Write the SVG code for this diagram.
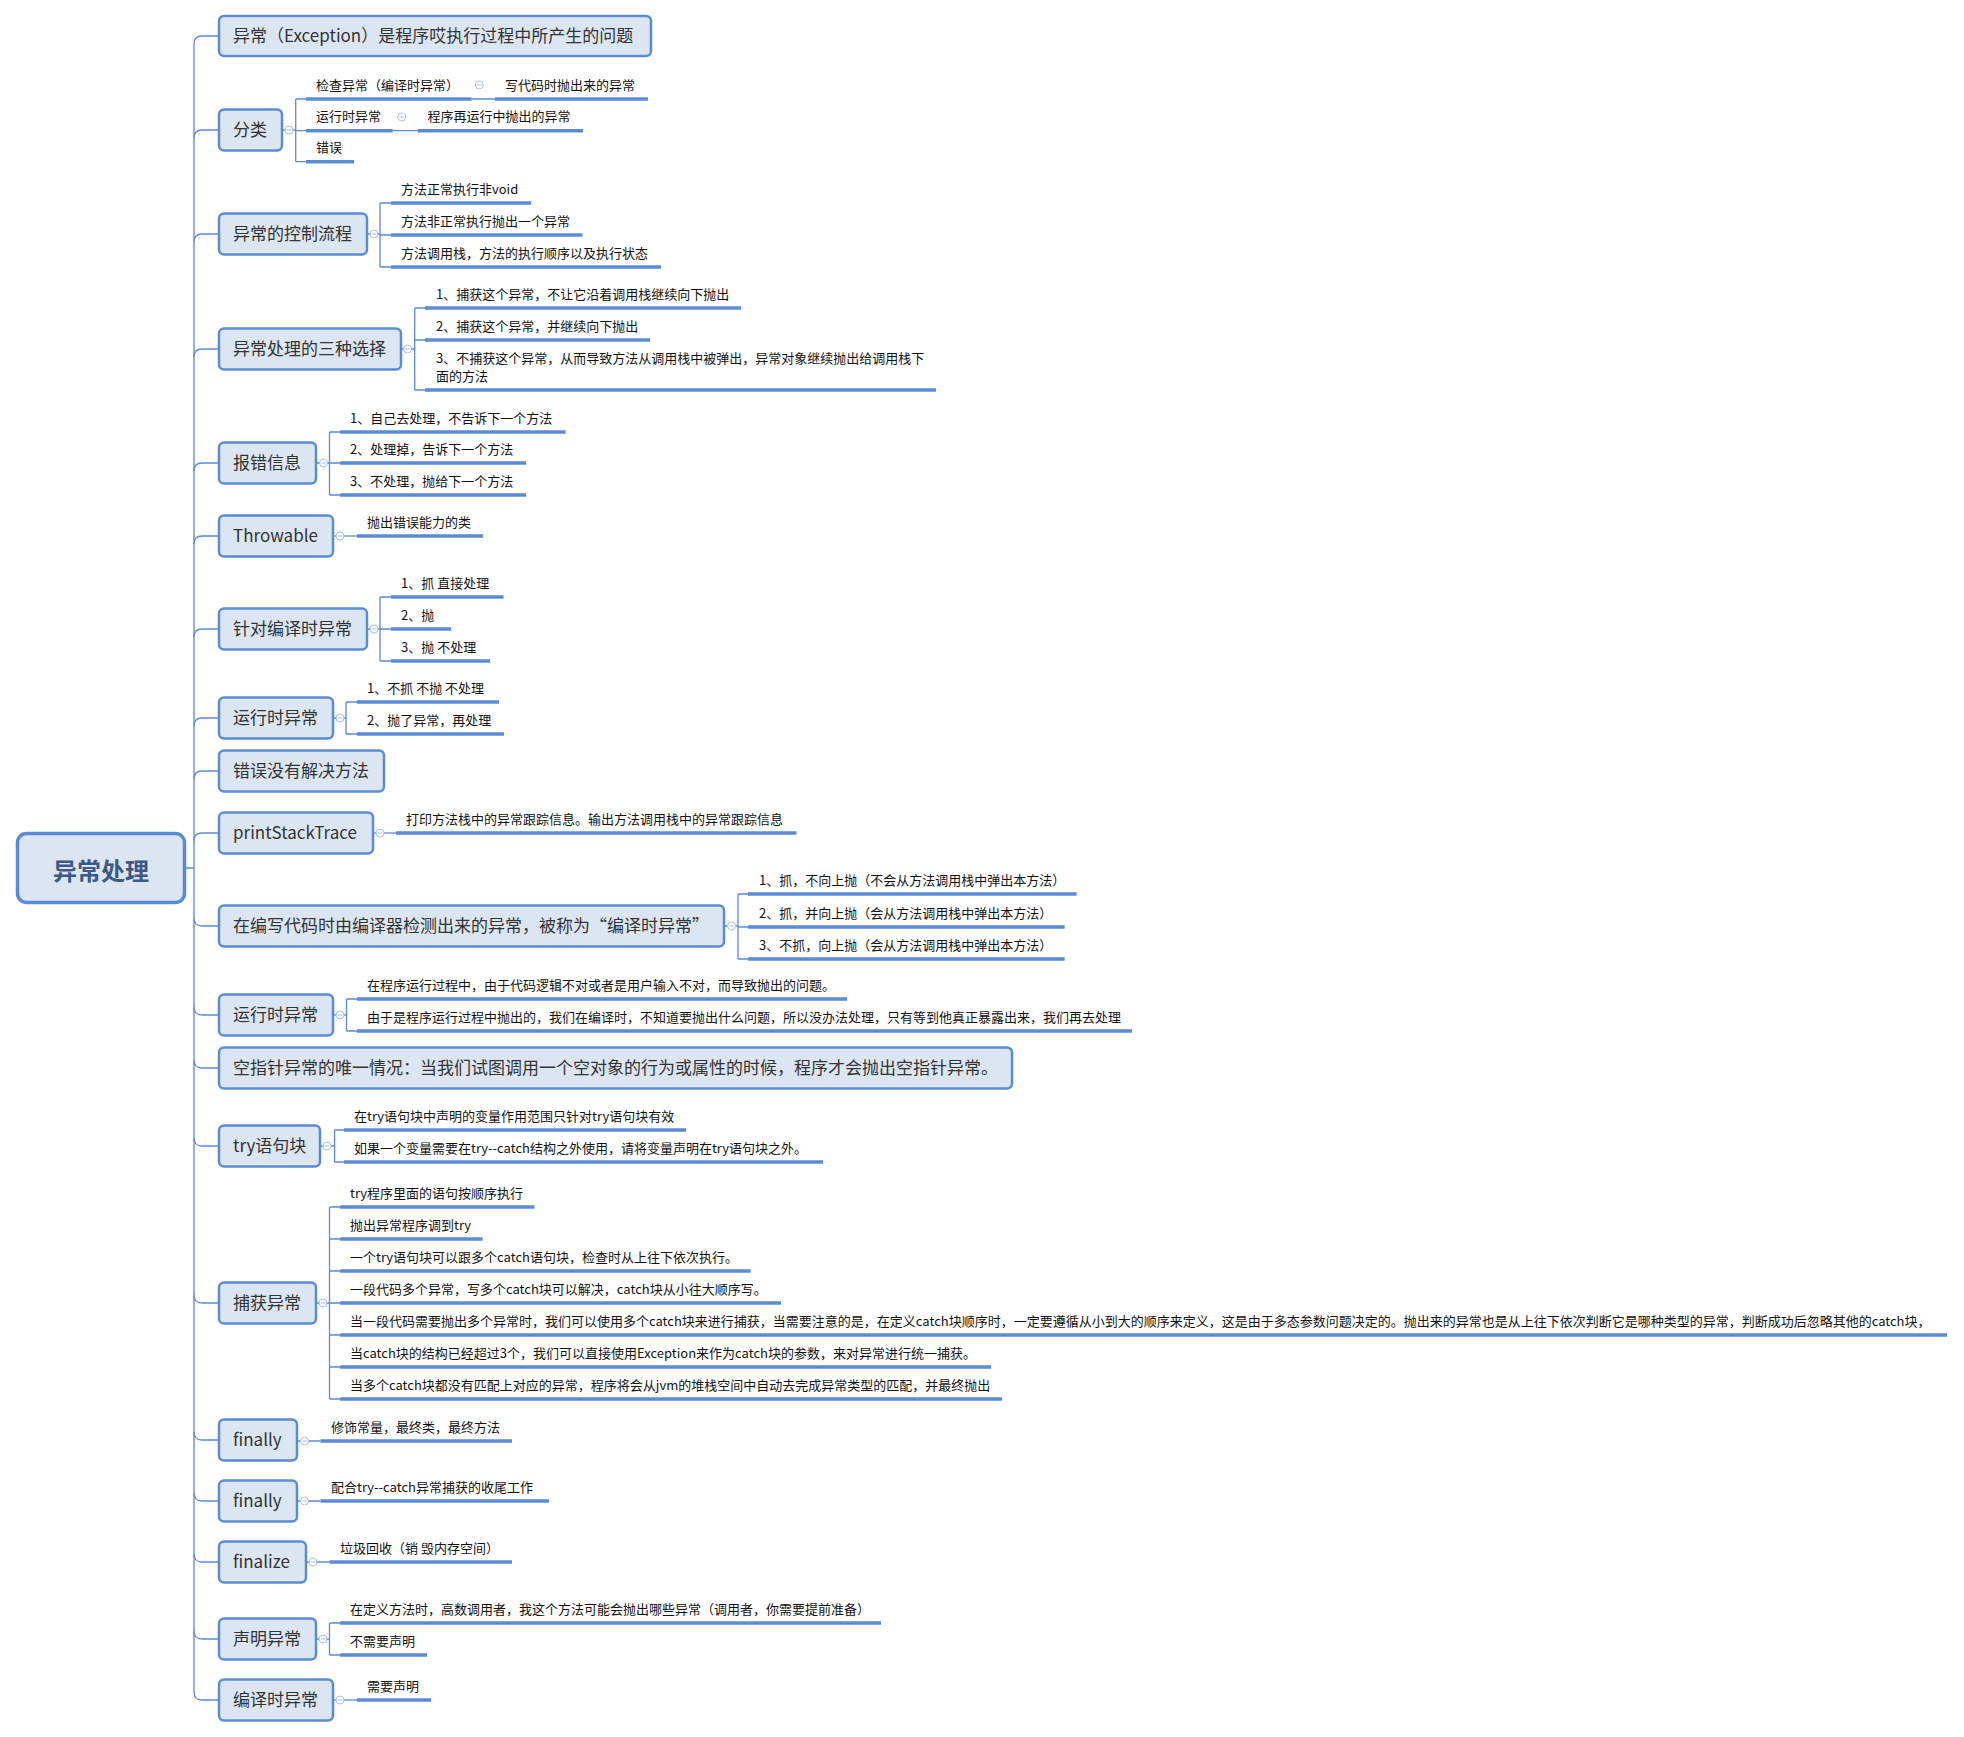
<svg xmlns="http://www.w3.org/2000/svg" width="1964" height="1737" viewBox="0 0 1964 1737">
<style>
text{font-family:"Noto Sans CJK SC","Noto Sans",sans-serif;dominant-baseline:central}
.n rect{fill:#DCE6F2;stroke:#5B8BD6;stroke-width:2.5}
.n text{font-size:17px;fill:#333333;transform:translateY(-1.5px)}
.root rect{fill:#DCE6F2;stroke:#5B8BD6;stroke-width:3.5}
.root text{font-size:24px;font-weight:bold;fill:#3A5888;text-anchor:middle}
.s text{font-size:13px;fill:#111111;transform:translateY(-1.5px)}
.s line{stroke:#5B8BD6;stroke-width:3.5}
.ln{stroke:#5B8BD6;stroke-width:1.3;fill:none}
</style>
<defs><g id="tog"><circle r="4" fill="#ffffff" stroke="#A9BEE6" stroke-width="1"/><path d="M-2.2,0 H2.2" stroke="#A9BEE6" stroke-width="1"/></g></defs>
<rect width="1964" height="1737" fill="#ffffff"/>

<g id="connectors" class="ln">
<path d="M185,868 H194 M194,44 V1692"/>
<path d="M194,44 Q194,36 202,36 H219"/>
<path d="M194,138 Q194,130 202,130 H219"/>
<path d="M194,242 Q194,234 202,234 H219"/>
<path d="M194,357 Q194,349 202,349 H219"/>
<path d="M194,471 Q194,463 202,463 H219"/>
<path d="M194,544 Q194,536 202,536 H219"/>
<path d="M194,637 Q194,629 202,629 H219"/>
<path d="M194,726 Q194,718 202,718 H219"/>
<path d="M194,779 Q194,771 202,771 H219"/>
<path d="M194,841 Q194,833 202,833 H219"/>
<path d="M194,918 Q194,926 202,926 H219"/>
<path d="M194,1007 Q194,1015 202,1015 H219"/>
<path d="M194,1060 Q194,1068 202,1068 H219"/>
<path d="M194,1138 Q194,1146 202,1146 H219"/>
<path d="M194,1295 Q194,1303 202,1303 H219"/>
<path d="M194,1432 Q194,1440 202,1440 H219"/>
<path d="M194,1493 Q194,1501 202,1501 H219"/>
<path d="M194,1554 Q194,1562 202,1562 H219"/>
<path d="M194,1631 Q194,1639 202,1639 H219"/>
<path d="M194,1692 Q194,1700 202,1700 H219"/>
<path d="M282,130 H295.7 M295.7,99 V161.7 M295.7,99 H306 M295.7,130.7 H306 M295.7,161.7 H306"/>
<path d="M471.7,99 H495 M392.7,130.7 H417.7"/>
<path d="M367,234 H380 M380,203 V267 M380,203 H391 M380,235 H391 M380,267 H391"/>
<path d="M401,349 H414.7 M414.7,308 V390 M414.7,308 H425 M414.7,340 H425 M414.7,390 H425"/>
<path d="M316,463 H329.5 M329.5,432 V495 M329.5,432 H340 M329.5,463 H340 M329.5,495 H340"/>
<path d="M333,536 H357"/>
<path d="M367,629 H380 M380,597 V661 M380,597 H391 M380,629 H391 M380,661 H391"/>
<path d="M333,718 H346 M346,702 V734 M346,702 H357 M346,734 H357"/>
<path d="M373,833 H396"/>
<path d="M724,926 H738 M738,894 V959 M738,894 H748 M738,927 H748 M738,959 H748"/>
<path d="M333,1015 H346.5 M346.5,999 V1031 M346.5,999 H357 M346.5,1031 H357"/>
<path d="M320,1146 H334.6 M334.6,1130 V1162 M334.6,1130 H344 M334.6,1162 H344"/>
<path d="M316,1303 H329.5 M329.5,1207 V1399 M329.5,1207 H340 M329.5,1239 H340 M329.5,1271 H340 M329.5,1303 H340 M329.5,1335 H340 M329.5,1367 H340 M329.5,1399 H340"/>
<path d="M297,1441 H320.5 M297,1501 H320.5 M306,1562 H329.5"/>
<path d="M316,1639 H329.5 M329.5,1623 V1655 M329.5,1623 H340 M329.5,1655 H340"/>
<path d="M333,1700 H357"/>
</g>

<g id="root" class="root"><rect x="17.5" y="833.5" width="167" height="69" rx="9"/><text x="101" y="869">异常处理</text></g>

<g id="n01" class="n"><rect x="219" y="16" width="432" height="40" rx="5"/><text x="233" y="36">异常（Exception）是程序哎执行过程中所产生的问题</text></g>
<g id="n02" class="n"><rect x="219" y="109.5" width="63" height="41" rx="5"/><text x="233" y="130">分类</text></g>
<g id="n03" class="n"><rect x="219" y="213.5" width="148" height="41" rx="5"/><text x="233" y="234">异常的控制流程</text></g>
<g id="n04" class="n"><rect x="219" y="328.5" width="182" height="41" rx="5"/><text x="233" y="349">异常处理的三种选择</text></g>
<g id="n05" class="n"><rect x="219" y="442.5" width="97" height="41" rx="5"/><text x="233" y="463">报错信息</text></g>
<g id="n06" class="n"><rect x="219" y="515.5" width="114" height="41" rx="5"/><text x="233" y="536">Throwable</text></g>
<g id="n07" class="n"><rect x="219" y="608.5" width="148" height="41" rx="5"/><text x="233" y="629">针对编译时异常</text></g>
<g id="n08" class="n"><rect x="219" y="697.5" width="114" height="41" rx="5"/><text x="233" y="718">运行时异常</text></g>
<g id="n09" class="n"><rect x="219" y="750.5" width="165" height="41" rx="5"/><text x="233" y="771">错误没有解决方法</text></g>
<g id="n10" class="n"><rect x="219" y="812.5" width="154" height="41" rx="5"/><text x="233" y="833">printStackTrace</text></g>
<g id="n11" class="n"><rect x="219" y="905.5" width="505" height="41" rx="5"/><text x="233" y="926">在编写代码时由编译器检测出来的异常，被称为“编译时异常”</text></g>
<g id="n12" class="n"><rect x="219" y="994.5" width="114" height="41" rx="5"/><text x="233" y="1015">运行时异常</text></g>
<g id="n13" class="n"><rect x="219" y="1047.5" width="793" height="41" rx="5"/><text x="233" y="1068">空指针异常的唯一情况：当我们试图调用一个空对象的行为或属性的时候，程序才会抛出空指针异常。</text></g>
<g id="n14" class="n"><rect x="219" y="1125.5" width="101" height="41" rx="5"/><text x="233" y="1146">try语句块</text></g>
<g id="n15" class="n"><rect x="219" y="1282.5" width="97" height="41" rx="5"/><text x="233" y="1303">捕获异常</text></g>
<g id="n16" class="n"><rect x="219" y="1419.5" width="78" height="41" rx="5"/><text x="233" y="1440">finally</text></g>
<g id="n17" class="n"><rect x="219" y="1480.5" width="78" height="41" rx="5"/><text x="233" y="1501">finally</text></g>
<g id="n18" class="n"><rect x="219" y="1541.5" width="87" height="41" rx="5"/><text x="233" y="1562">finalize</text></g>
<g id="n19" class="n"><rect x="219" y="1618.5" width="97" height="41" rx="5"/><text x="233" y="1639">声明异常</text></g>
<g id="n20" class="n"><rect x="219" y="1679.5" width="114" height="41" rx="5"/><text x="233" y="1700">编译时异常</text></g>

<g id="s02a" class="s"><line x1="306" y1="99" x2="471.7" y2="99"/><text x="316" y="85.5">检查异常（编译时异常）</text></g>
<g id="s02a1" class="s"><line x1="495" y1="99" x2="648" y2="99"/><text x="505" y="85.5">写代码时抛出来的异常</text></g>
<g id="s02b" class="s"><line x1="306" y1="130.7" x2="392.7" y2="130.7"/><text x="316" y="117">运行时异常</text></g>
<g id="s02b1" class="s"><line x1="417.7" y1="130.7" x2="583" y2="130.7"/><text x="427.6" y="117">程序再运行中抛出的异常</text></g>
<g id="s02c" class="s"><line x1="306" y1="161.7" x2="354" y2="161.7"/><text x="316" y="148">错误</text></g>

<g id="s03a" class="s"><line x1="391" y1="203" x2="531" y2="203"/><text x="401" y="189.5">方法正常执行非void</text></g>
<g id="s03b" class="s"><line x1="391" y1="235" x2="582.5" y2="235"/><text x="401" y="221.5">方法非正常执行抛出一个异常</text></g>
<g id="s03c" class="s"><line x1="391" y1="267" x2="661" y2="267"/><text x="401" y="253.5">方法调用栈，方法的执行顺序以及执行状态</text></g>

<g id="s04a" class="s"><line x1="425" y1="308" x2="741" y2="308"/><text x="436" y="294.5">1、捕获这个异常，不让它沿着调用栈继续向下抛出</text></g>
<g id="s04b" class="s"><line x1="425" y1="340" x2="650" y2="340"/><text x="436" y="326.5">2、捕获这个异常，并继续向下抛出</text></g>
<g id="s04c" class="s"><line x1="425" y1="390" x2="936" y2="390"/><text x="436" y="358.5">3、不捕获这个异常，从而导致方法从调用栈中被弹出，异常对象继续抛出给调用栈下</text><text x="436" y="376.5">面的方法</text></g>

<g id="s05a" class="s"><line x1="340" y1="432" x2="565.6" y2="432"/><text x="350" y="418.5">1、自己去处理，不告诉下一个方法</text></g>
<g id="s05b" class="s"><line x1="340" y1="463" x2="526" y2="463"/><text x="350" y="449.5">2、处理掉，告诉下一个方法</text></g>
<g id="s05c" class="s"><line x1="340" y1="495" x2="526" y2="495"/><text x="350" y="481.5">3、不处理，抛给下一个方法</text></g>

<g id="s06a" class="s"><line x1="357" y1="536" x2="483" y2="536"/><text x="367" y="522.5">抛出错误能力的类</text></g>

<g id="s07a" class="s"><line x1="391" y1="597" x2="503.5" y2="597"/><text x="401" y="583.5">1、抓 直接处理</text></g>
<g id="s07b" class="s"><line x1="391" y1="629" x2="451" y2="629"/><text x="401" y="615.5">2、抛</text></g>
<g id="s07c" class="s"><line x1="391" y1="661" x2="490" y2="661"/><text x="401" y="647.5">3、抛 不处理</text></g>

<g id="s08a" class="s"><line x1="357" y1="702" x2="499" y2="702"/><text x="367" y="688.5">1、不抓 不抛 不处理</text></g>
<g id="s08b" class="s"><line x1="357" y1="734" x2="504" y2="734"/><text x="367" y="720.5">2、抛了异常，再处理</text></g>

<g id="s10a" class="s"><line x1="396" y1="833" x2="796.5" y2="833"/><text x="406" y="819.5">打印方法栈中的异常跟踪信息。输出方法调用栈中的异常跟踪信息</text></g>

<g id="s11a" class="s"><line x1="748" y1="894" x2="1076.6" y2="894"/><text x="759" y="880.5">1、抓，不向上抛（不会从方法调用栈中弹出本方法）</text></g>
<g id="s11b" class="s"><line x1="748" y1="927" x2="1064.6" y2="927"/><text x="759" y="913.5">2、抓，并向上抛（会从方法调用栈中弹出本方法）</text></g>
<g id="s11c" class="s"><line x1="748" y1="959" x2="1064.6" y2="959"/><text x="759" y="945.5">3、不抓，向上抛（会从方法调用栈中弹出本方法）</text></g>

<g id="s12a" class="s"><line x1="357" y1="999" x2="847" y2="999"/><text x="367" y="985.5">在程序运行过程中，由于代码逻辑不对或者是用户输入不对，而导致抛出的问题。</text></g>
<g id="s12b" class="s"><line x1="357" y1="1031" x2="1132" y2="1031"/><text x="367" y="1017.5">由于是程序运行过程中抛出的，我们在编译时，不知道要抛出什么问题，所以没办法处理，只有等到他真正暴露出来，我们再去处理</text></g>

<g id="s14a" class="s"><line x1="344" y1="1130" x2="686" y2="1130"/><text x="354" y="1116.5">在try语句块中声明的变量作用范围只针对try语句块有效</text></g>
<g id="s14b" class="s"><line x1="344" y1="1162" x2="823" y2="1162"/><text x="354" y="1148.5">如果一个变量需要在try--catch结构之外使用，请将变量声明在try语句块之外。</text></g>

<g id="s15a" class="s"><line x1="340" y1="1207" x2="534.5" y2="1207"/><text x="350" y="1193.5">try程序里面的语句按顺序执行</text></g>
<g id="s15b" class="s"><line x1="340" y1="1239" x2="482.6" y2="1239"/><text x="350" y="1225.5">抛出异常程序调到try</text></g>
<g id="s15c" class="s"><line x1="340" y1="1271" x2="750.6" y2="1271"/><text x="350" y="1257.5">一个try语句块可以跟多个catch语句块，检查时从上往下依次执行。</text></g>
<g id="s15d" class="s"><line x1="340" y1="1303" x2="781" y2="1303"/><text x="350" y="1289.5">一段代码多个异常，写多个catch块可以解决，catch块从小往大顺序写。</text></g>
<g id="s15e" class="s"><line x1="340" y1="1335" x2="1947" y2="1335"/><text x="350" y="1321.5">当一段代码需要抛出多个异常时，我们可以使用多个catch块来进行捕获，当需要注意的是，在定义catch块顺序时，一定要遵循从小到大的顺序来定义，这是由于多态参数问题决定的。抛出来的异常也是从上往下依次判断它是哪种类型的异常，判断成功后忽略其他的catch块，</text></g>
<g id="s15f" class="s"><line x1="340" y1="1367" x2="991" y2="1367"/><text x="350" y="1353.5">当catch块的结构已经超过3个，我们可以直接使用Exception来作为catch块的参数，来对异常进行统一捕获。</text></g>
<g id="s15g" class="s"><line x1="340" y1="1399" x2="1002" y2="1399"/><text x="350" y="1385.5">当多个catch块都没有匹配上对应的异常，程序将会从jvm的堆栈空间中自动去完成异常类型的匹配，并最终抛出</text></g>

<g id="s16a" class="s"><line x1="320.5" y1="1441" x2="512" y2="1441"/><text x="331" y="1427.5">修饰常量，最终类，最终方法</text></g>
<g id="s17a" class="s"><line x1="320.5" y1="1501" x2="549" y2="1501"/><text x="331" y="1487.5">配合try--catch异常捕获的收尾工作</text></g>
<g id="s18a" class="s"><line x1="329.5" y1="1562" x2="512" y2="1562"/><text x="340" y="1548.5">垃圾回收（销 毁内存空间）</text></g>
<g id="s19a" class="s"><line x1="340" y1="1623" x2="881" y2="1623"/><text x="350" y="1609.5">在定义方法时，高数调用者，我这个方法可能会抛出哪些异常（调用者，你需要提前准备）</text></g>
<g id="s19b" class="s"><line x1="340" y1="1655" x2="427" y2="1655"/><text x="350" y="1641.5">不需要声明</text></g>
<g id="s20a" class="s"><line x1="357" y1="1700" x2="431" y2="1700"/><text x="367" y="1686.5">需要声明</text></g>

<g id="toggles">
<use href="#tog" x="289" y="130"/>
<use href="#tog" x="479.3" y="85"/>
<use href="#tog" x="401.7" y="117"/>
<use href="#tog" x="374" y="234"/>
<use href="#tog" x="407.6" y="349"/>
<use href="#tog" x="323.5" y="463"/>
<use href="#tog" x="340" y="536"/>
<use href="#tog" x="374" y="629"/>
<use href="#tog" x="340" y="718"/>
<use href="#tog" x="380" y="833"/>
<use href="#tog" x="731.5" y="926"/>
<use href="#tog" x="340" y="1015"/>
<use href="#tog" x="327" y="1146"/>
<use href="#tog" x="323" y="1303"/>
<use href="#tog" x="304.5" y="1441"/>
<use href="#tog" x="304.5" y="1501"/>
<use href="#tog" x="313" y="1562"/>
<use href="#tog" x="323" y="1639"/>
<use href="#tog" x="340" y="1700"/>
</g>
</svg>
